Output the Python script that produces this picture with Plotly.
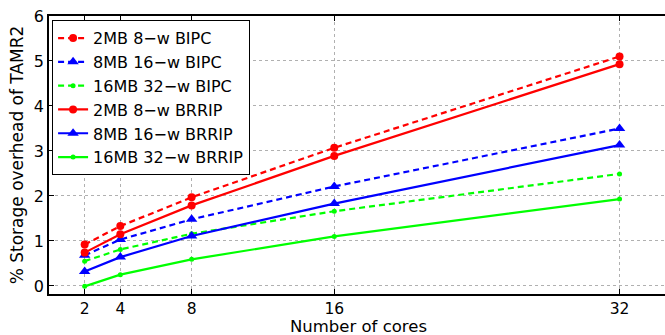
import plotly.graph_objects as go

cores = [2, 4, 8, 16, 32]
bipc_2mb = [0.92, 1.33, 1.97, 3.07, 5.10]
bipc_8mb = [0.68, 1.03, 1.48, 2.21, 3.50]
bipc_16mb = [0.55, 0.81, 1.16, 1.66, 2.49]
brrip_2mb = [0.74, 1.15, 1.79, 2.89, 4.93]
brrip_8mb = [0.32, 0.64, 1.11, 1.83, 3.13]
brrip_16mb = [-0.01, 0.25, 0.59, 1.10, 1.93]

names = ["2MB 8\u2212w BIPC", "8MB 16\u2212w BIPC", "16MB 32\u2212w BIPC",
         "2MB 8\u2212w BRRIP", "8MB 16\u2212w BRRIP", "16MB 32\u2212w BRRIP"]
series = [bipc_2mb, bipc_8mb, bipc_16mb, brrip_2mb, brrip_8mb, brrip_16mb]
colors = ["#ff0000", "#0000ff", "#00ff00", "#ff0000", "#0000ff", "#00ff00"]
dashes = ["6px,4px", "6px,4px", "6px,4px", "solid", "solid", "solid"]
symbols = ["circle", "triangle-up", "circle", "circle", "triangle-up", "circle"]
sizes = [8, 10, 5, 8, 10, 5]

fig = go.Figure()
for n, s, c, d, sym, sz in zip(names, series, colors, dashes, symbols, sizes):
    fig.add_trace(go.Scatter(
        x=cores, y=s, name=n, mode="lines+markers",
        line=dict(color=c, width=2.2, dash=d),
        marker=dict(symbol=sym, size=sz, color=c),
    ))

fig.update_layout(
    width=665, height=335,
    margin=dict(l=49, r=0, t=16, b=41),
    paper_bgcolor="white", plot_bgcolor="white",
    font=dict(family="DejaVu Sans, Liberation Sans, sans-serif", size=16, color="black"),
    showlegend=True,
    legend=dict(
        x=0.005, y=0.985, xanchor="left", yanchor="top",
        bgcolor="white", bordercolor="black", borderwidth=1,
        font=dict(size=16), tracegroupgap=0, itemwidth=30,
    ),
    xaxis=dict(
        range=[0, 34.55], tickvals=cores, ticktext=[str(c) for c in cores],
        tickfont=dict(size=15.5), automargin=False,
        showgrid=True, gridcolor="#b0b0b0", griddash="dot", gridwidth=1,
        showline=True, linecolor="black", linewidth=1.5, mirror="ticks",
        ticks="inside", ticklen=5, tickcolor="black", zeroline=False,
    ),
    yaxis=dict(
        range=[-0.18, 6], tickvals=[0, 1, 2, 3, 4, 5, 6],
        tickfont=dict(size=16), automargin=False,
        showgrid=True, gridcolor="#b0b0b0", griddash="dot", gridwidth=1,
        showline=True, linecolor="black", linewidth=1.5,
        ticks="inside", ticklen=5, tickcolor="black", zeroline=False,
        title=dict(text="% Storage overhead of TAMR2", standoff=6, font=dict(size=17)),
    ),
    annotations=[dict(
        text="Number of cores", xref="paper", yref="paper",
        x=0.5, y=0, xshift=1, yshift=-21,
        xanchor="center", yanchor="top", showarrow=False,
        font=dict(size=16.5),
    )],
)

fig.write_html("out.html")
